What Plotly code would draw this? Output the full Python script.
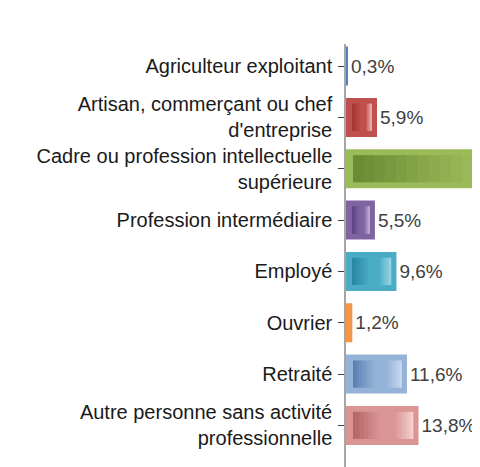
import plotly.graph_objects as go

categories = [
    "Agriculteur exploitant",
    "Artisan, commerçant ou chef<br>d'entreprise",
    "Cadre ou profession intellectuelle<br>supérieure",
    "Profession intermédiaire",
    "Employé",
    "Ouvrier",
    "Retraité",
    "Autre personne sans activité<br>professionnelle",
]
values = [0.3, 5.9, 52.1, 5.5, 9.6, 1.2, 11.6, 13.8]
value_labels = ["0,3%", "5,9%", "52,1%", "5,5%", "9,6%", "1,2%", "11,6%", "13,8%"]

outer_colors = ["#4F81BD", "#C0504D", "#9BBB59", "#8064A2", "#4BACC6", "#F79646", "#95B3D7", "#D99694"]
dark_colors = [None, "#A33532", "#6B8B35", "#5E4585", "#2A88A3", None, "#5A7FB0", "#B56466"]
light_colors = [None, "#E8A7A5", "#9DBE5B", "#B8A6CF", "#92D2E2", None, "#C9DAF0", "#F4D0CF"]

def mix(c1, c2, t):
    a = [int(c1[i:i + 2], 16) for i in (1, 3, 5)]
    b = [int(c2[i:i + 2], 16) for i in (1, 3, 5)]
    return "rgb(%d,%d,%d)" % tuple(round(a[k] + (b[k] - a[k]) * t) for k in range(3))

def grad(dark, mid, light, t):
    if t < 0.45:
        return mix(dark, mid, t / 0.45)
    if t < 0.7:
        return mix(mid, mid, 0)
    return mix(mid, light, (t - 0.7) / 0.3)

FONT = "Liberation Sans, Arial"

fig = go.Figure()

fig.add_trace(go.Bar(
    y=categories, x=values, orientation="h", width=0.76,
    marker=dict(color=outer_colors, line=dict(width=0)),
    text=value_labels,
    textposition=["none" if v > 25 else "outside" for v in values],
    textfont=dict(family=FONT, size=19, color="#404040"),
    cliponaxis=False, hoverinfo="skip", showlegend=False,
))

# inner gradient (styling only, derived from values)
N = 24
start_off, end_off = 1.33, 1.0
for i, (cat, v) in enumerate(zip(categories, values)):
    if dark_colors[i] is None:
        continue
    s = start_off
    e = v - end_off
    for k in range(N):
        b0 = s + (e - s) * k / N
        b1 = s + (e - s) * (k + 1) / N
        fig.add_trace(go.Bar(
            y=[cat], x=[b1 - b0 + 0.02], base=[b0], orientation="h", width=0.53,
            marker=dict(color=grad(dark_colors[i], outer_colors[i], light_colors[i], k / (N - 1)),
                        line=dict(width=0)),
            hoverinfo="skip", showlegend=False,
        ))

fig.update_layout(
    width=472, height=459,
    margin=dict(l=338, r=0, t=36, b=0),
    barmode="overlay",
    plot_bgcolor="white", paper_bgcolor="white",
    font=dict(family=FONT, size=20, color="#1A1A1A"),
    xaxis=dict(range=[0, 25.5], showgrid=False, zeroline=False, showticklabels=False,
               showline=False, ticks=""),
    yaxis=dict(type="category", categoryorder="array", categoryarray=categories,
               range=[7.81, -0.43], showgrid=False, zeroline=False,
               showline=True, linecolor="#A6A6A6", linewidth=1.5,
               ticks="outside", ticklen=6, tickcolor="#404040", tickwidth=1.2,
               ticklabelstandoff=2,
               tickfont=dict(family=FONT, size=20, color="#1A1A1A")),
    shapes=[dict(type="line", xref="x", yref="paper", xsizemode="pixel", xanchor=0,
                 x0=-6, x1=0, y0=1, y1=1, line=dict(color="#404040", width=1.2))],
)

fig.write_html("out.html")
